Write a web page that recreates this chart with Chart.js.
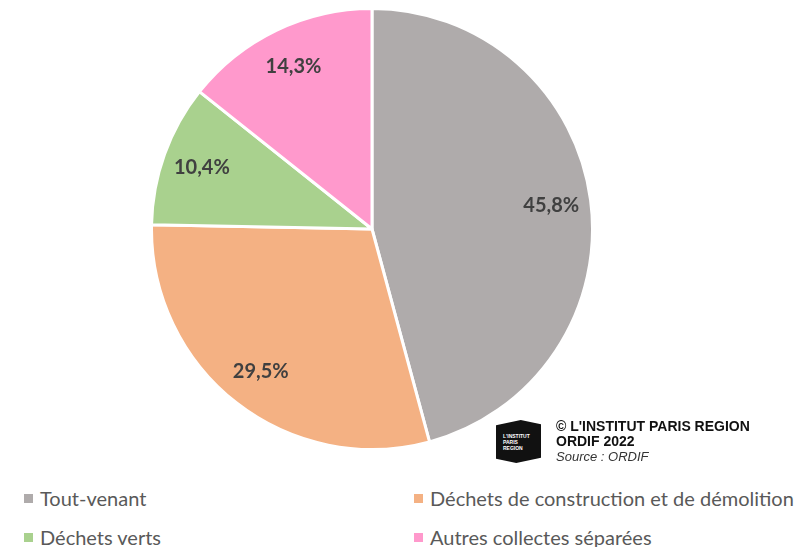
<!DOCTYPE html>
<html>
<head>
<meta charset="utf-8">
<script src="https://cdn.jsdelivr.net/npm/chart.js@4"></script>
<style>
  body { margin: 0; background: #fff; width: 798px; height: 547px; position: relative; overflow: hidden; font-family: Lato, "Open Sans", sans-serif; }
  #wrap { position: absolute; left: 150px; top: 7px; width: 444px; height: 444px; }
  .leg { position: absolute; font-size: 20px; color: #595959; white-space: nowrap; }
  .leg span { display: inline-block; width: 9px; height: 9px; margin-right: 7px; vertical-align: 3px; }
  #logo { position: absolute; left: 496px; top: 420px; width: 45px; height: 43px; background: #111;
    clip-path: polygon(0 12%, 55% 0, 100% 10%, 100% 88%, 45% 100%, 0 90%); }
  #logo div { position: absolute; left: 7px; top: 13px; color: #fff; font: bold 5px "Liberation Sans", Arial, sans-serif; line-height: 6px; }
  #credit { position: absolute; left: 556px; top: 419px; font: bold 14px "Liberation Sans", Arial, sans-serif; color: #111; line-height: 15px; }
  #credit i { font-weight: normal; color: #333; font-size: 13px; }
</style>
</head>
<body>
<div id="wrap"><canvas id="pie"></canvas></div>
<div id="logo"><div>L'INSTITUT<br>PARIS<br>REGION</div></div>
<div id="credit">© L'INSTITUT PARIS REGION<br>ORDIF 2022<br><i>Source : ORDIF</i></div>
<div id="legend"></div>
<script>
// Data
const categories = ['Tout-venant', 'Déchets de construction et de démolition', 'Déchets verts', 'Autres collectes séparées'];
const shares = [45.8, 29.5, 10.4, 14.3];
const sliceColors = ['#AFABAB', '#F4B183', '#A9D18E', '#FF99CC'];

// Legend (two columns)
const legendPos = [[24, 486], [414, 486], [24, 525], [414, 525]];
const legendEl = document.getElementById('legend');
categories.forEach((c, i) => {
  const d = document.createElement('div');
  d.className = 'leg';
  d.style.left = legendPos[i][0] + 'px';
  d.style.top = legendPos[i][1] + 'px';
  d.innerHTML = `<span style="background:${sliceColors[i]}"></span>${c}`;
  legendEl.appendChild(d);
});

// percent labels inside slices
const sliceLabels = {
  id: 'sliceLabels',
  afterDatasetsDraw(chart) {
    const ctx = chart.ctx;
    const meta = chart.getDatasetMeta(0);
    ctx.save();
    ctx.font = 'bold 20px Lato, sans-serif';
    ctx.fillStyle = '#404040';
    ctx.textAlign = 'center';
    ctx.textBaseline = 'middle';
    meta.data.forEach((arc, i) => {
      const mid = (arc.startAngle + arc.endAngle) / 2;
      const r = arc.outerRadius * 0.82;
      const x = arc.x + Math.cos(mid) * r;
      const y = arc.y + Math.sin(mid) * r;
      ctx.fillText(shares[i].toFixed(1).replace('.', ',') + '%', x, y);
    });
    ctx.restore();
  }
};

new Chart(document.getElementById('pie'), {
  type: 'pie',
  data: {
    labels: categories,
    datasets: [{
      data: shares,
      backgroundColor: sliceColors,
      borderColor: '#fff',
      borderWidth: 3
    }]
  },
  options: {
    responsive: true,
    maintainAspectRatio: false,
    animation: false,
    plugins: { legend: { display: false }, tooltip: { enabled: false } }
  },
  plugins: [sliceLabels]
});
</script>
</body>
</html>
